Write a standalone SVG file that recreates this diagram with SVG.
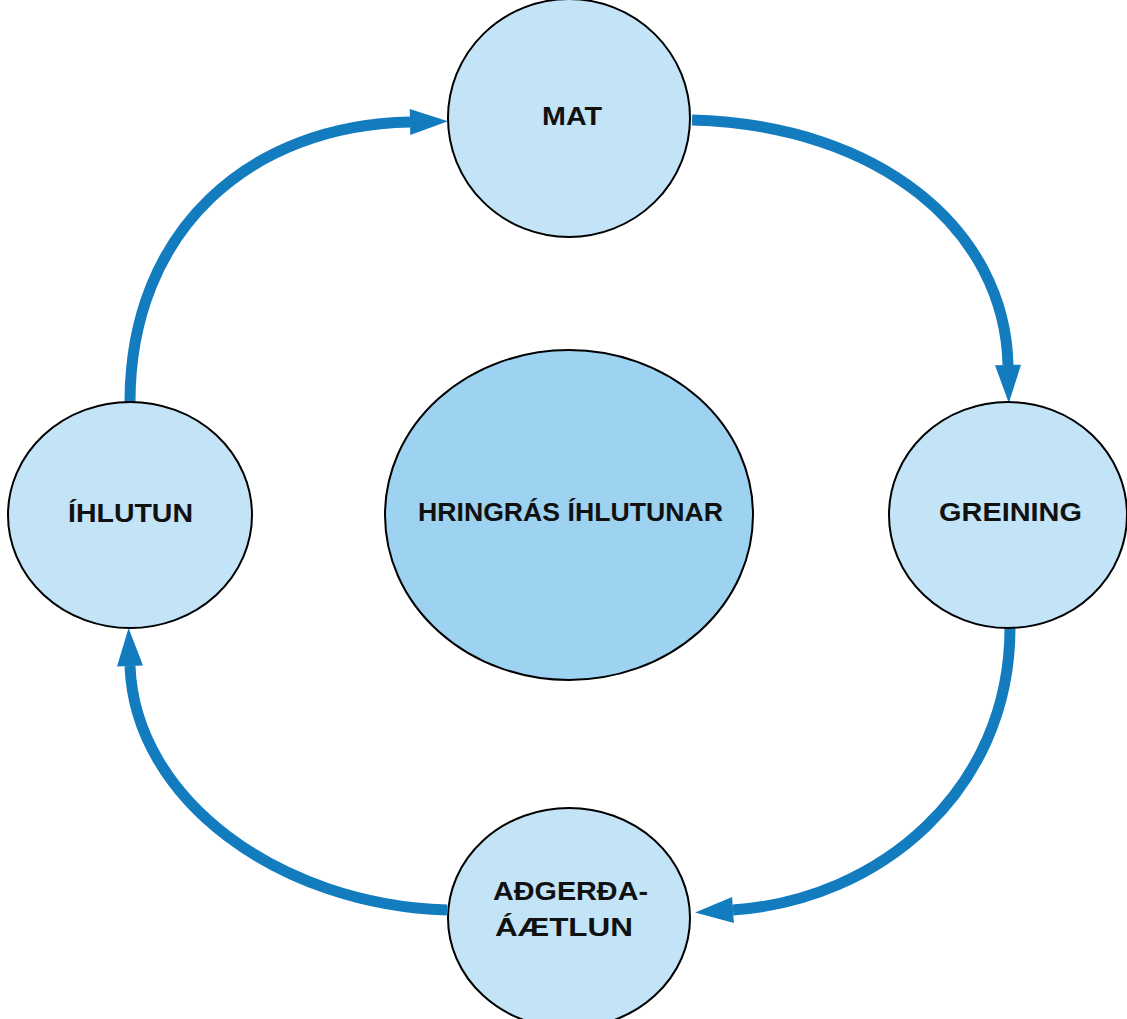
<svg xmlns="http://www.w3.org/2000/svg" width="1127" height="1019" viewBox="0 0 1127 1019">
<style>
.node{fill:#c3e4f6;stroke:#000;stroke-width:2}
.center{fill:#9dd2f1;stroke:#000;stroke-width:2}
.lbl{font-family:"Liberation Sans",Arial,sans-serif;font-weight:bold;font-size:25px;fill:#111;text-anchor:middle}
.conn{fill:none;stroke:#137cbf;stroke-width:11}
</style>
<defs>
<marker id="ah" markerUnits="userSpaceOnUse" markerWidth="40" markerHeight="28" refX="0" refY="13" orient="auto" overflow="visible">
<polygon points="0,0 38,13 0,26" fill="#137cbf"/>
</marker>
</defs>
<rect width="1127" height="1019" fill="#fff"/>
<g id="connectors">
<path class="conn" marker-end="url(#ah)" d="M130,402 C130,230 250,125 410,122"/>
<path class="conn" marker-end="url(#ah)" d="M692,120 C880,125 1005,230 1008,365"/>
<path class="conn" marker-end="url(#ah)" d="M1010,628 C1010,790 880,900 733,910"/>
<path class="conn" marker-end="url(#ah)" d="M447,910 C280,905 135,800 130,666"/>
</g>
<g id="n-center"><ellipse class="center" cx="569" cy="515" rx="184" ry="165"/><text class="lbl" x="570.5" y="521" textLength="305" lengthAdjust="spacingAndGlyphs">HRINGRÁS ÍHLUTUNAR</text></g>
<g id="n-mat"><ellipse class="node" cx="569" cy="118" rx="121" ry="119"/><text class="lbl" x="572" y="125" textLength="60" lengthAdjust="spacingAndGlyphs">MAT</text></g>
<g id="n-greining"><ellipse class="node" cx="1008" cy="515" rx="119" ry="113"/><text class="lbl" x="1010.5" y="521" textLength="143" lengthAdjust="spacingAndGlyphs">GREINING</text></g>
<g id="n-ihlutun"><ellipse class="node" cx="130" cy="515" rx="122" ry="113"/><text class="lbl" x="130.5" y="521.5" textLength="125" lengthAdjust="spacingAndGlyphs">ÍHLUTUN</text></g>
<g id="n-adgerda"><ellipse class="node" cx="569" cy="918" rx="121" ry="110"/><text class="lbl" x="570.5" y="900" textLength="155" lengthAdjust="spacingAndGlyphs">AÐGERÐA-</text><text class="lbl" x="564" y="936" textLength="138" lengthAdjust="spacingAndGlyphs">ÁÆTLUN</text></g>
</svg>
